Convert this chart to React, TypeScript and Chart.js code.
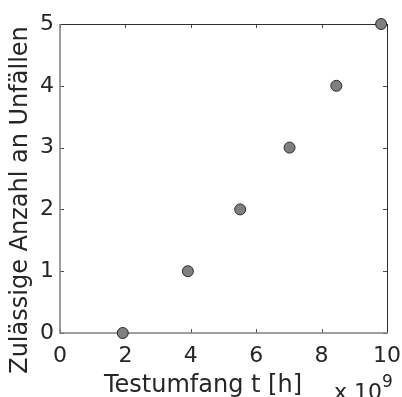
import React, { useEffect, useRef } from "react";
import { Chart, registerables } from "chart.js";

Chart.register(...registerables);

// Data
const TEST_HOURS = [1.92e9, 3.91e9, 5.51e9, 7.02e9, 8.45e9, 9.82e9];
const ALLOWED_ACCIDENTS = [0, 1, 2, 3, 4, 5];
const X_MIN = 0;
const X_MAX = 10e9;
const X_STEP = 2e9;
const X_TICK_SCALE = 1e9;
const Y_MIN = 0;
const Y_MAX = 5;
const Y_STEP = 1;
const X_TITLE = "Testumfang t [h]";
const Y_TITLE = "Zulässige Anzahl an Unfällen";
const EXP_BASE = "x 10";
const EXP_POWER = "9";

const FONT = "'DejaVu Sans', Verdana, sans-serif";
const TEXT_COLOR = "#262626";

const framePlugin = {
  id: "matlabFrame",
  beforeDatasetsDraw(chart: any) {
    const { ctx, chartArea, scales } = chart;
    const { left, right, top, bottom } = chartArea;
    const x = scales.x;
    const y = scales.y;
    ctx.save();
    // inner tick marks
    ctx.strokeStyle = "#4d4d4d";
    ctx.lineWidth = 1;
    const tl = 4;
    x.ticks.forEach((t: any) => {
      const px = Math.round(x.getPixelForValue(t.value)) + 0.5;
      ctx.beginPath();
      ctx.moveTo(px, bottom);
      ctx.lineTo(px, bottom - tl);
      ctx.moveTo(px, top);
      ctx.lineTo(px, top + tl);
      ctx.stroke();
    });
    y.ticks.forEach((t: any) => {
      const py = Math.round(y.getPixelForValue(t.value)) + 0.5;
      ctx.beginPath();
      ctx.moveTo(left, py);
      ctx.lineTo(left + tl, py);
      ctx.moveTo(right, py);
      ctx.lineTo(right - tl, py);
      ctx.stroke();
    });
    // box: top/right dark, left/bottom gray
    ctx.strokeStyle = "#2e2e2e";
    ctx.lineWidth = 1;
    ctx.beginPath();
    ctx.moveTo(left, top + 0.5);
    ctx.lineTo(right, top + 0.5);
    ctx.moveTo(right + 0.5, top);
    ctx.lineTo(right + 0.5, bottom);
    ctx.stroke();
    ctx.strokeStyle = "#808080";
    ctx.lineWidth = 1.5;
    ctx.beginPath();
    ctx.moveTo(left, top);
    ctx.lineTo(left, bottom);
    ctx.lineTo(right + 1, bottom);
    ctx.stroke();
    ctx.restore();
  },
  afterDraw(chart: any) {
    const { ctx } = chart;
    ctx.save();
    ctx.fillStyle = TEXT_COLOR;
    ctx.textBaseline = "alphabetic";
    // x title
    ctx.font = `24px ${FONT}`;
    ctx.textAlign = "center";
    ctx.fillText(X_TITLE, 203, 392);
    // y title
    ctx.save();
    ctx.translate(27, 200);
    ctx.rotate(-Math.PI / 2);
    ctx.textAlign = "center";
    ctx.fillText(Y_TITLE, 0, 0);
    ctx.restore();
    // exponent label
    ctx.textAlign = "left";
    ctx.font = `22px ${FONT}`;
    ctx.fillText(EXP_BASE, 334, 399);
    const w = ctx.measureText(EXP_BASE).width;
    ctx.font = `17px ${FONT}`;
    ctx.fillText(EXP_POWER, 334 + w, 387);
    ctx.restore();
  },
};

export default function App() {
  const ref = useRef<HTMLCanvasElement | null>(null);
  useEffect(() => {
    if (!ref.current) return;
    const chart = new Chart(ref.current, {
      type: "scatter",
      data: {
        datasets: [
          {
            data: TEST_HOURS.map((v, i) => ({ x: v, y: ALLOWED_ACCIDENTS[i] })),
            backgroundColor: "#7f7f7f",
            borderColor: "#2b2b2b",
            borderWidth: 1,
            pointRadius: 5.5,
            pointHoverRadius: 5.5,
            clip: false,
          } as any,
        ],
      },
      options: {
        responsive: false,
        animation: false,
        layout: { padding: { top: 24, right: 15, left: 0, bottom: 0 } },
        plugins: { legend: { display: false }, tooltip: { enabled: false } },
        scales: {
          x: {
            type: "linear",
            min: X_MIN,
            max: X_MAX,
            grid: { display: false, drawTicks: false },
            border: { display: false },
            ticks: {
              stepSize: X_STEP,
              padding: 10,
              color: TEXT_COLOR,
              font: { family: FONT, size: 22 },
              maxRotation: 0,
              callback: (v: any) => String(Math.round((Number(v) / X_TICK_SCALE) * 100) / 100),
            },
            afterFit: (s: any) => {
              s.height = 64;
              s.paddingLeft = 0;
              s.paddingRight = 0;
            },
          },
          y: {
            type: "linear",
            min: Y_MIN,
            max: Y_MAX,
            grid: { display: false, drawTicks: false },
            border: { display: false },
            ticks: {
              stepSize: Y_STEP,
              padding: 6,
              color: TEXT_COLOR,
              font: { family: FONT, size: 22 },
            },
            afterFit: (s: any) => {
              s.width = 60;
              s.paddingTop = 0;
              s.paddingBottom = 0;
            },
          },
        },
      },
      plugins: [framePlugin],
    });
    return () => chart.destroy();
  }, []);
  return (
    <div style={{ position: "fixed", left: 0, top: 0, width: 402, height: 397, background: "#fff" }}>
      <canvas ref={ref} width={402} height={397} />
    </div>
  );
}
